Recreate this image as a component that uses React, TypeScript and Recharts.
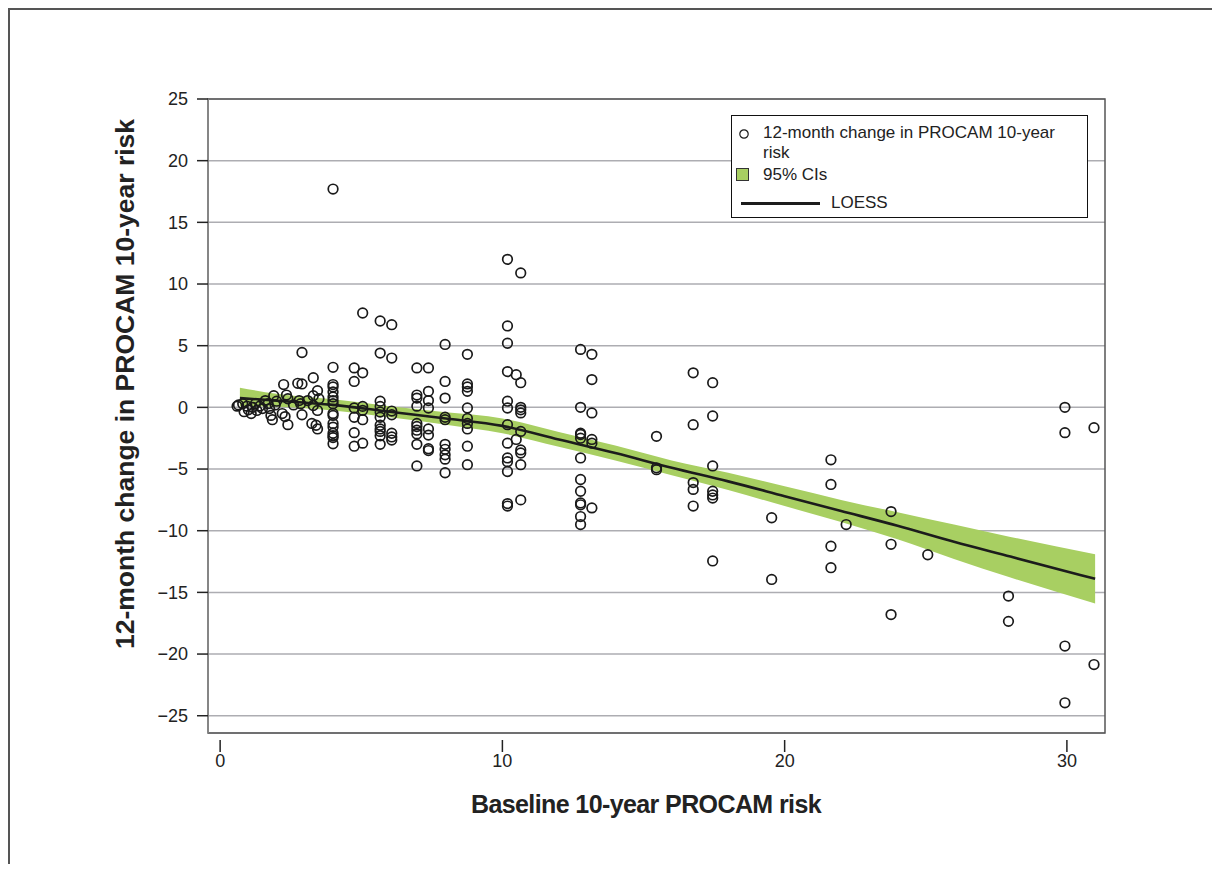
import { ComposedChart, Scatter, Area, Line, XAxis, YAxis, CartesianGrid, ReferenceArea } from "recharts"

// baseline risk columns and the 12-month changes observed at each
const riskColumns: [number, number[]][] = [
  [4.0, [17.7, 3.25, 1.85, 1.65, 1.25, 0.85, 0.55, 0.3, -0.5, -0.65, -1.3, -1.6, -2.1, -2.3, -2.45, -2.95]],
  [4.75, [3.2, 2.1, -0.05, -0.8, -2.05, -3.15]],
  [5.05, [7.65, 2.8, 0.08, -0.24, -1.0, -2.9]],
  [5.67, [7.0, 4.4, 0.5, 0.08, -0.38, -0.8, -1.45, -1.75, -1.95, -2.3, -3.0]],
  [6.08, [6.7, 4.0, -0.3, -0.6, -2.1, -2.4, -2.65]],
  [6.97, [3.2, 1.0, 0.75, 0.1, -1.3, -1.55, -1.85, -2.15, -3.0, -4.75]],
  [7.38, [3.2, 1.3, 0.55, -0.05, -1.75, -2.25, -3.35, -3.5]],
  [7.97, [5.1, 2.1, 0.75, -0.8, -1.0, -3.0, -3.4, -3.85, -4.2, -5.3]],
  [8.76, [4.3, 1.9, 1.65, 1.3, -0.05, -0.9, -1.3, -1.75, -3.15, -4.65]],
  [10.18, [12.0, 6.6, 5.2, 2.9, 0.5, -0.05, -1.4, -2.9, -4.1, -4.4, -5.2, -7.8, -8.0]],
  [10.49, [2.65, -2.6]],
  [10.65, [10.9, 2.0, 0.0, -0.2, -0.45, -1.95, -3.45, -3.7, -4.65, -7.5]],
  [12.77, [4.7, 0.0, -2.1, -2.2, -2.5, -4.1, -5.85, -6.8, -7.75, -7.9, -8.85, -9.5]],
  [13.17, [4.3, 2.25, -0.45, -2.6, -2.9, -8.15]],
  [15.46, [-2.35, -4.9, -5.05]],
  [16.76, [2.8, -1.4, -6.1, -6.65, -8.0]],
  [17.45, [2.0, -0.7, -4.75, -6.8, -7.1, -7.35, -12.45]],
  [19.54, [-8.95, -13.95]],
  [21.64, [-4.25, -6.25, -11.25, -13.0]],
  [22.18, [-9.5]],
  [23.77, [-8.45, -11.1, -16.8]],
  [25.07, [-11.95]],
  [27.93, [-15.3, -17.35]],
  [29.93, [0.0, -2.05, -19.35, -23.95]],
  [30.96, [-1.65, -20.85]],
]

// low-risk cluster near zero
const clusterPoints: [number, number][] = [
  [0.6, 0.1], [0.65, 0.2], [0.8, 0.3], [0.85, -0.35], [0.95, 0.1], [1.0, -0.2], [1.1, -0.5],
  [1.15, 0.0], [1.25, 0.3], [1.3, -0.25], [1.4, 0.1], [1.5, -0.1], [1.6, 0.55], [1.7, 0.3],
  [1.75, -0.1], [1.8, -0.65], [1.85, -1.0], [1.9, 0.95], [1.95, 0.2], [2.0, 0.5], [2.2, -0.5],
  [2.25, 1.85], [2.3, -0.75], [2.35, 1.0], [2.4, 0.7], [2.4, -1.4], [2.6, 0.2], [2.75, 1.95],
  [2.8, 0.55], [2.85, 0.3], [2.9, 4.45], [2.9, 1.9], [2.9, -0.6], [3.1, 0.55], [3.3, 2.4],
  [3.3, 0.95], [3.3, 0.15], [3.25, -1.3], [3.4, -1.45], [3.45, -1.75], [3.45, 1.35], [3.5, 0.7],
  [3.45, -0.25],
]

const loessX = [0.7, 2, 4, 6, 8, 10, 12, 14, 16, 18, 20, 22, 24, 26, 28, 31]
const loessFit = [0.75, 0.55, 0.2, -0.35, -0.9, -1.5, -2.6, -3.7, -4.9, -6.0, -7.2, -8.4, -9.6, -10.9, -12.1, -13.9]
const ciLow = [0.1, 0.05, -0.25, -0.8, -1.4, -2.1, -3.2, -4.3, -5.5, -6.7, -8.0, -9.3, -10.7, -12.3, -13.8, -15.9]
const ciHigh = [1.6, 1.1, 0.65, 0.1, -0.4, -0.9, -2.0, -3.1, -4.3, -5.3, -6.4, -7.5, -8.5, -9.5, -10.5, -11.9]

const xTicks = [0, 10, 20, 30]
const yTicks = [-25, -20, -15, -10, -5, 0, 5, 10, 15, 20, 25]

const points = [
  ...clusterPoints.map(([x, y]) => ({ x, y })),
  ...riskColumns.flatMap(([x, ys]) => ys.map((y) => ({ x, y }))),
]
const loess = loessX.map((x, i) => ({ x, fit: loessFit[i], band: [ciLow[i], ciHigh[i]] }))

const FONT = "'Liberation Sans', Arial, Helvetica, sans-serif"
const GREEN = "#a8cf62"

const Ring = (props: any) => (
  <circle cx={props.cx} cy={props.cy} r={4.8} fill="none" stroke="#1a1a1a" strokeWidth={1.7} />
)

const XTick = (props: any) => {
  const { x, y, payload } = props
  return (
    <g>
      <line x1={x} x2={x} y1={y + 7} y2={y + 19} stroke="#222" strokeWidth={1.5} />
      <text x={x} y={y + 34} textAnchor="middle" fill="#222" fontSize={18} fontFamily={FONT}>
        {payload.value}
      </text>
    </g>
  )
}

export default function App() {
  return (
    <div
      style={{
        position: "relative",
        width: 1204,
        height: 856,
        boxSizing: "border-box",
        borderTop: "2px solid #555",
        borderLeft: "2px solid #555",
        fontFamily: FONT,
      }}
    >
      <ComposedChart width={1200} height={850} data={loess} margin={{ top: 89, right: 105, bottom: 27, left: 108 }}>
        <CartesianGrid vertical={false} stroke="#adadb2" strokeWidth={1.5} />
        <XAxis
          type="number"
          dataKey="x"
          domain={[-0.43, 31.35]}
          ticks={xTicks}
          allowDataOverflow
          axisLine={false}
          tickLine={false}
          tickSize={0}
          tickMargin={0}
          height={100}
          tick={<XTick />}
        />
        <YAxis
          type="number"
          domain={[-26.4, 25]}
          ticks={yTicks}
          allowDataOverflow
          width={90}
          tickSize={11}
          tickMargin={9}
          axisLine={{ stroke: "#888", strokeWidth: 1.5 }}
          tickLine={{ stroke: "#222", strokeWidth: 1.5 }}
          tick={{ fill: "#222", fontSize: 18, fontFamily: FONT }}
          tickFormatter={(v: number) => String(v).replace("-", "\u2212")}
        />
        <ReferenceArea x1={-0.43} x2={31.35} y1={-26.4} y2={25} fill="none" stroke="#555" strokeWidth={1.5} />
        <Area
          type="monotone"
          dataKey="band"
          fill={GREEN}
          fillOpacity={1}
          stroke="none"
          isAnimationActive={false}
        />
        <Line
          type="monotone"
          dataKey="fit"
          stroke="#1c1c1c"
          strokeWidth={2.6}
          dot={false}
          isAnimationActive={false}
        />
        <Scatter data={points} dataKey="y" shape={<Ring />} isAnimationActive={false} />
      </ComposedChart>

      <div
        style={{
          position: "absolute",
          left: 721,
          top: 105,
          width: 357,
          height: 103,
          boxSizing: "border-box",
          border: "1.5px solid #111",
          background: "#fff",
          fontSize: 17,
          color: "#222",
        }}
      >
        <svg style={{ position: "absolute", left: 6, top: 12 }} width={12} height={12}>
          <circle cx={6} cy={6} r={4.2} fill="none" stroke="#1a1a1a" strokeWidth={1.2} />
        </svg>
        <div style={{ position: "absolute", left: 31, top: 7, lineHeight: "20px" }}>
          12-month change in PROCAM 10-year
          <br />
          risk
        </div>
        <div
          style={{
            position: "absolute",
            left: 4,
            top: 52,
            width: 13,
            height: 13,
            boxSizing: "border-box",
            background: GREEN,
            border: "1.2px solid #333",
          }}
        />
        <div style={{ position: "absolute", left: 31, top: 49, lineHeight: "20px" }}>95% CIs</div>
        <div style={{ position: "absolute", left: 9, top: 86, width: 79, height: 2.5, background: "#1c1c1c" }} />
        <div style={{ position: "absolute", left: 99, top: 77, lineHeight: "20px" }}>LOESS</div>
      </div>

      <div
        style={{
          position: "absolute",
          left: 0,
          top: 780,
          width: 1272,
          textAlign: "center",
          fontSize: 25,
          letterSpacing: -0.6,
          fontWeight: "bold",
          color: "#222",
          lineHeight: "28px",
        }}
      >
        Baseline 10-year PROCAM risk
      </div>
      <div
        style={{
          position: "absolute",
          left: 115,
          top: 374,
          width: 0,
          height: 0,
        }}
      >
        <div
          style={{
            position: "absolute",
            left: 0,
            top: 0,
            transform: "translate(-50%, -50%) rotate(-90deg)",
            whiteSpace: "nowrap",
            fontSize: 26.5,
            fontWeight: "bold",
            color: "#222",
            lineHeight: "30px",
          }}
        >
          12-month change in PROCAM 10-year risk
        </div>
      </div>
    </div>
  )
}
